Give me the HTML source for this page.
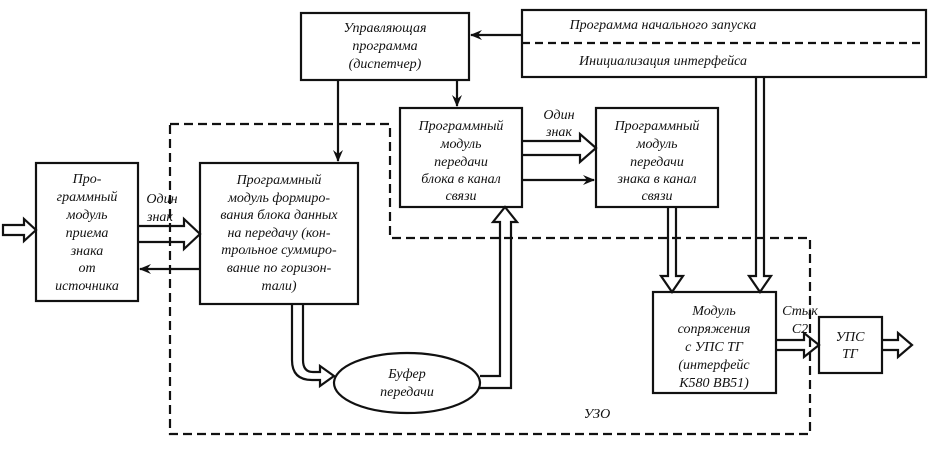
<!DOCTYPE html>
<html><head><meta charset="utf-8"><style>
html,body{margin:0;padding:0;background:#fff;}
svg text{font-family:"Liberation Serif",serif;font-style:italic;font-size:14px;fill:#111;text-anchor:middle;}
</style></head><body>
<svg width="928" height="449" viewBox="0 0 928 449" xmlns="http://www.w3.org/2000/svg">
<defs>
<marker id="a" markerWidth="12" markerHeight="10" refX="11" refY="5" orient="auto" markerUnits="userSpaceOnUse">
<path d="M0,0 L12,5 L0,10 L4,5 Z" fill="#111"/></marker>
</defs>
<g fill="none" stroke="#111" stroke-width="2.2">
<path d="M170,124 H390 V238 H810 V434 H170 Z" stroke-dasharray="9,5"/>
<rect x="36" y="163" width="102" height="138"/>
<rect x="200" y="163" width="158" height="141"/>
<rect x="301" y="13" width="168" height="67"/>
<rect x="522" y="10" width="404" height="67"/>
<line x1="522" y1="43" x2="926" y2="43" stroke-dasharray="8,5"/>
<rect x="400" y="108" width="122" height="99"/>
<rect x="596" y="108" width="122" height="99"/>
<rect x="653" y="292" width="123" height="101"/>
<rect x="819" y="317" width="63" height="56"/>
<ellipse cx="407" cy="383" rx="73" ry="30"/>
<line x1="522" y1="35" x2="471" y2="35" marker-end="url(#a)"/>
<line x1="338" y1="80" x2="338" y2="161" marker-end="url(#a)"/>
<line x1="457" y1="80" x2="457" y2="106" marker-end="url(#a)"/>
<line x1="200" y1="269" x2="140" y2="269" marker-end="url(#a)"/>
<line x1="522" y1="180" x2="594" y2="180" marker-end="url(#a)"/>
<path d="M3,225 H24 V219 L36,230 L24,241 V235 H3 Z"/>
<path d="M138,226 H184 V219 L200,234 L184,249 V242 H138"/>
<path d="M522,141 H580 V134 L596,148 L580,162 V155 H522"/>
<path d="M776,340 H804 V333 L819,345 L804,357 V350 H776"/>
<path d="M882,340 H898 V333 L912,345 L898,357 V350 H882"/>
<path d="M668,207 V276 H661 L672,292 L683,276 H676 V207"/>
<path d="M756,77 V276 H749 L760,292 L771,276 H764 V77"/>
<path d="M292,304 V360 Q292,380 312,380 H320 V386 L334,376 L320,366 V372 H313 Q303,372 303,360 V304"/>
<path d="M480,376 H500 V222 H493 L505,207 L517,222 H511 V388 H478"/>
</g>
<g>
<text x="87" y="183">Про-</text>
<text x="87" y="201">граммный</text>
<text x="87" y="219">модуль</text>
<text x="87" y="237">приема</text>
<text x="87" y="255">знака</text>
<text x="87" y="272">от</text>
<text x="87" y="290">источника</text>
<text x="162" y="203">Один</text>
<text x="160" y="221">знак</text>
<text x="279" y="184">Программный</text>
<text x="279" y="202">модуль формиро-</text>
<text x="279" y="219">вания блока данных</text>
<text x="279" y="237">на передачу (кон-</text>
<text x="279" y="254">трольное суммиро-</text>
<text x="279" y="272">вание по горизон-</text>
<text x="279" y="290">тали)</text>
<text x="385" y="32">Управляющая</text>
<text x="385" y="50">программа</text>
<text x="385" y="68">(диспетчер)</text>
<text x="663" y="29">Программа начального запуска</text>
<text x="663" y="65">Инициализация интерфейса</text>
<text x="461" y="130">Программный</text>
<text x="461" y="148">модуль</text>
<text x="461" y="166">передачи</text>
<text x="461" y="183">блока в канал</text>
<text x="461" y="200">связи</text>
<text x="559" y="119">Один</text>
<text x="559" y="136">знак</text>
<text x="657" y="130">Программный</text>
<text x="657" y="148">модуль</text>
<text x="657" y="166">передачи</text>
<text x="657" y="183">знака в канал</text>
<text x="657" y="200">связи</text>
<text x="407" y="378">Буфер</text>
<text x="407" y="396">передачи</text>
<text x="714" y="315">Модуль</text>
<text x="714" y="333">сопряжения</text>
<text x="714" y="351">с УПС ТГ</text>
<text x="714" y="369">(интерфейс</text>
<text x="714" y="387">К580 ВВ51)</text>
<text x="800" y="315">Стык</text>
<text x="800" y="333">С2</text>
<text x="850" y="341">УПС</text>
<text x="850" y="358">ТГ</text>
<text x="597" y="418">УЗО</text>
</g>
</svg>
</body></html>
